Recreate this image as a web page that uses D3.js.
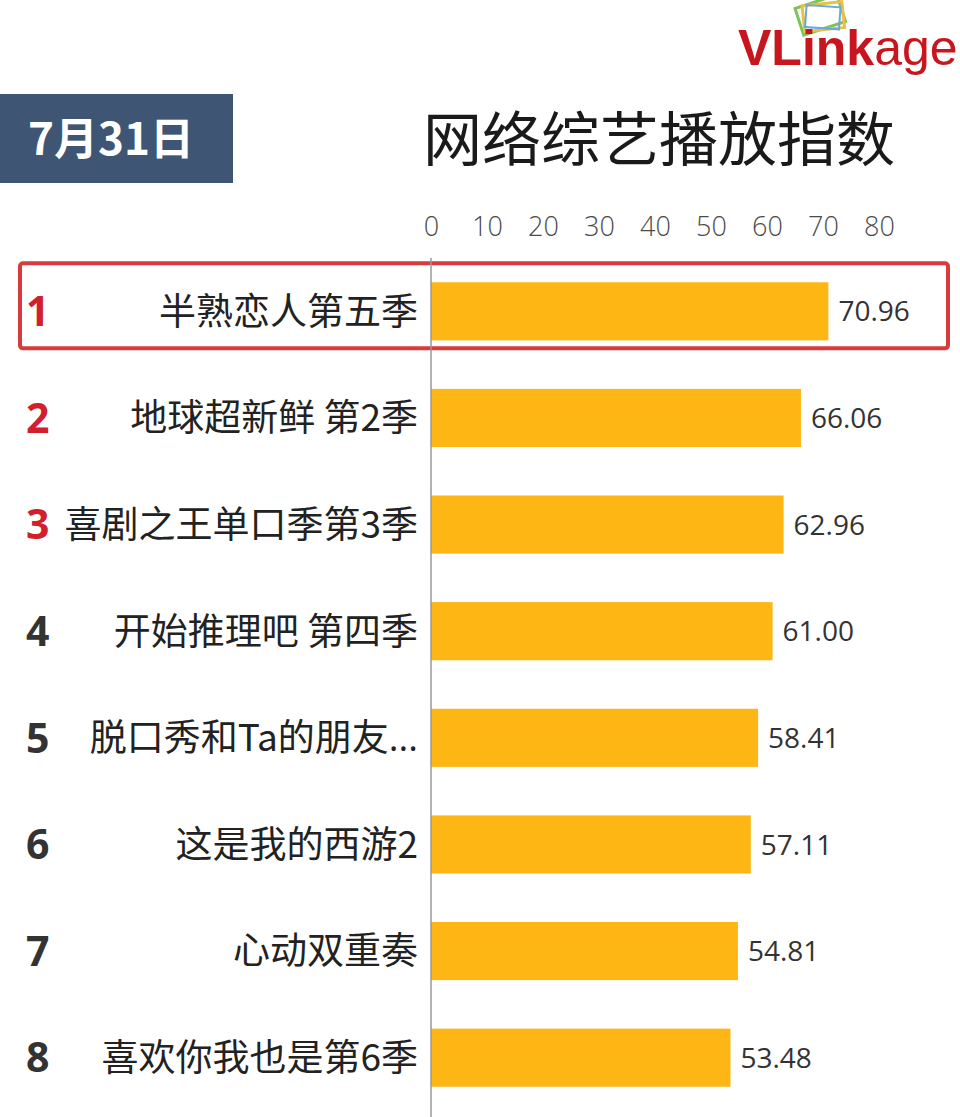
<!DOCTYPE html>
<meta charset="utf-8">
<style>
  body { margin: 0; background: #fff; }
  svg { display: block; }
</style>
<svg width="960" height="1117"></svg>
<script src="https://d3js.org/d3.v7.min.js"></script>
<script>
const ranks = [1, 2, 3, 4, 5, 6, 7, 8]
const shows = ["半熟恋人第五季", "地球超新鲜 第2季", "喜剧之王单口季第3季", "开始推理吧 第四季",
  "脱口秀和Ta的朋友…", "这是我的西游2", "心动双重奏", "喜欢你我也是第6季"]
const values = [70.96, 66.06, 62.96, 61.00, 58.41, 57.11, 54.81, 53.48]
const ticks = [0, 10, 20, 30, 40, 50, 60, 70, 80]
const title = "网络综艺播放指数"
const date = "7月31日"

const width = 960
const height = 1117
const svg = d3.select('svg')
const cjk = '"Noto Sans CJK SC", "Noto Sans", sans-serif'
const latin = '"Open Sans", "Noto Sans", sans-serif'

const x = d3.scaleLinear().domain([0, 80]).range([431, 879])
const y = d3.scaleBand().domain(ranks).range([258, 1111])
  .paddingInner(0.455).paddingOuter(0.2275)

// logo
const logo = svg.append('g')
const icon = logo.append('g').attr('transform', 'translate(820,14) rotate(-18)')
icon.append('rect').attr('x', -22).attr('y', -13).attr('width', 44).attr('height', 28)
  .attr('fill', 'none').attr('stroke', '#7cc35a').attr('stroke-width', 3)
icon.append('rect').attr('x', -17).attr('y', -10).attr('width', 40).attr('height', 26)
  .attr('fill', 'none').attr('stroke', '#e7c24a').attr('stroke-width', 3)
  .attr('transform', 'rotate(12)')
icon.append('rect').attr('x', -14).attr('y', -8).attr('width', 34).attr('height', 22)
  .attr('fill', 'none').attr('stroke', '#6aa8d8').attr('stroke-width', 2)
  .attr('transform', 'rotate(22)')
const logoText = logo.append('text')
  .attr('x', 738).attr('y', 65)
  .attr('font-family', '"Liberation Sans", Arial, sans-serif')
  .attr('font-size', 50)
  .attr('fill', '#c8161e')
logoText.append('tspan').attr('font-weight', 'bold').text('VLink')
logoText.append('tspan').text('age')

// date box
svg.append('rect')
  .attr('x', 0).attr('y', 94).attr('width', 233).attr('height', 89)
  .attr('fill', '#3e5673')
svg.append('text')
  .attr('x', 28).attr('y', 155)
  .attr('font-family', cjk).attr('font-weight', 'bold').attr('font-size', 44)
  .attr('fill', '#fff')
  .text(date)

// title
svg.append('text')
  .attr('x', 659).attr('y', 161)
  .attr('text-anchor', 'middle')
  .attr('font-family', cjk).attr('font-weight', 400).attr('font-size', 59)
  .attr('fill', '#1a1a1a')
  .text(title)

// axis ticks on top
const axis = svg.append('g')
  .attr('transform', 'translate(0,236)')
  .call(d3.axisTop(x).tickValues(ticks).tickSize(0).tickPadding(0))
axis.select('.domain').remove()
axis.selectAll('text')
  .attr('font-family', latin).attr('font-size', 27).attr('font-weight', 300)
  .attr('fill', '#4a4a4a')
  .attr('dy', 0)

// highlight box for rank 1
svg.append('rect')
  .attr('x', 20).attr('y', y(1) - 19)
  .attr('width', 928).attr('height', y.bandwidth() + 27)
  .attr('rx', 3)
  .attr('fill', 'none').attr('stroke', '#d93a3c').attr('stroke-width', 4)

// bars
svg.append('g')
  .selectAll('rect')
  .data(values)
  .join('rect')
  .attr('x', x(0))
  .attr('y', (d, i) => y(ranks[i]))
  .attr('width', d => x(d) - x(0))
  .attr('height', y.bandwidth())
  .attr('fill', '#fdb614')

// baseline
svg.append('line')
  .attr('x1', x(0)).attr('x2', x(0))
  .attr('y1', 258).attr('y2', height)
  .attr('stroke', '#999').attr('stroke-width', 1.5)

// value labels
svg.append('g')
  .selectAll('text')
  .data(values)
  .join('text')
  .attr('x', d => x(d) + 10)
  .attr('y', (d, i) => y(ranks[i]) + y.bandwidth() / 2)
  .attr('dy', '0.36em')
  .attr('font-family', latin).attr('font-size', 28)
  .attr('fill', '#333')
  .text(d => d.toFixed(2))

// show names (ellipsis drawn in latin font so it sits on the baseline)
const names = svg.append('g')
  .selectAll('text')
  .data(shows)
  .join('text')
  .attr('x', 418)
  .attr('y', (d, i) => y(ranks[i]) + y.bandwidth() / 2)
  .attr('dy', '0.36em')
  .attr('text-anchor', 'end')
  .attr('font-family', cjk).attr('font-size', 37)
  .attr('fill', '#222')
names.append('tspan').text(d => d.replace('…', ''))
names.filter(d => d.endsWith('…'))
  .append('tspan').attr('font-family', latin).text('...')

// rank numbers
svg.append('g')
  .selectAll('text')
  .data(ranks)
  .join('text')
  .attr('x', 26)
  .attr('y', d => y(d) + y.bandwidth() / 2)
  .attr('dy', '0.36em')
  .attr('font-family', latin).attr('font-weight', 'bold').attr('font-size', 41)
  .attr('fill', d => d <= 3 ? '#d1202c' : '#333')
  .text(d => d)
</script>
